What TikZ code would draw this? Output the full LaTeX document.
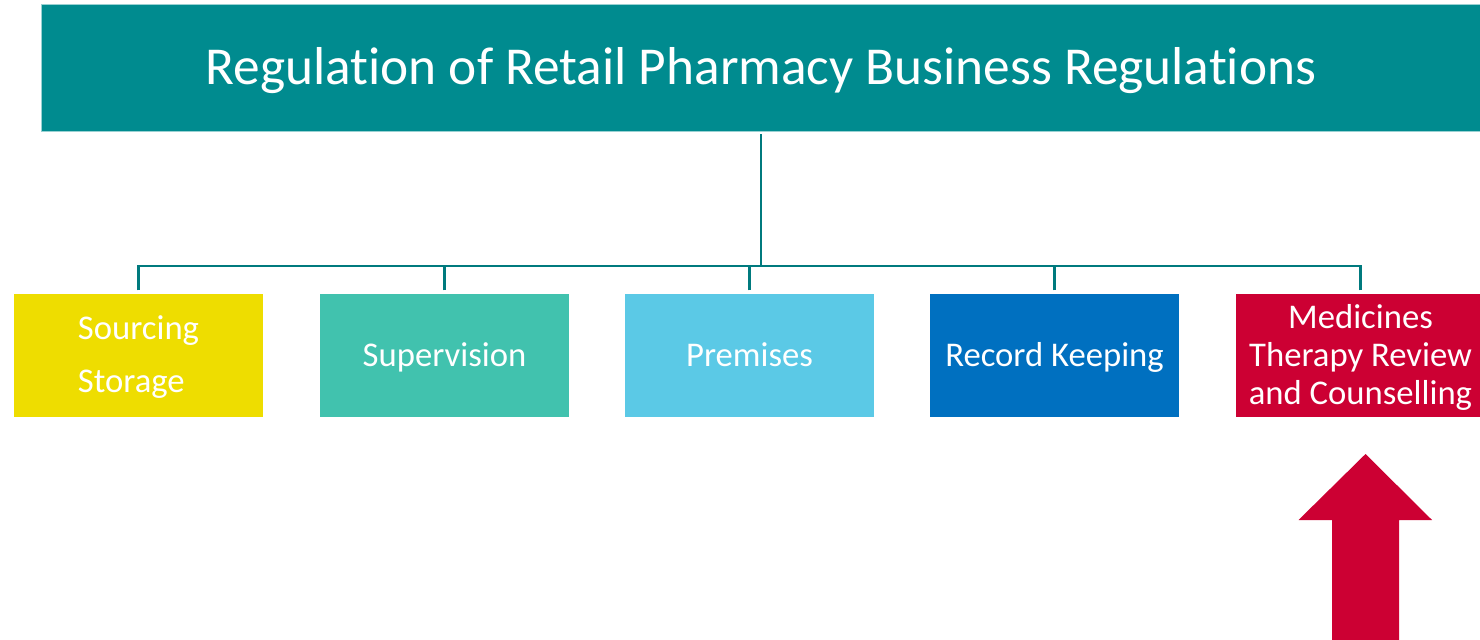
\documentclass[tikz,border=0pt]{standalone}
\usepackage{fontspec}
\setmainfont[Ligatures={NoCommon}]{Carlito}
\definecolor{topteal}{HTML}{008B8F}
\definecolor{lineteal}{HTML}{007A7E}
\definecolor{cyellow}{HTML}{EEDD00}
\definecolor{cgreen}{HTML}{41C2AE}
\definecolor{clblue}{HTML}{5BC9E6}
\definecolor{cblue}{HTML}{0070C0}
\definecolor{cred}{HTML}{CC0033}
\begin{document}
\begin{tikzpicture}[x=0.75pt,y=-0.75pt,
  box/.style={rectangle,minimum width=249*0.75pt,minimum height=123*0.75pt,inner sep=0pt,
    text=white,font=\fontsize{26}{28.5}\selectfont,align=center},
  onebox/.style={box,text height=16.7pt,text depth=0pt},
  label/.style={text=white,inner sep=0pt},
  conn/.style={draw=lineteal,line width=2.2pt}]
\useasboundingbox (0,0) rectangle (1480,639);
\clip (0,0) rectangle (1480,639);
\node[rectangle,fill=topteal,draw=topteal!40!white,line width=0.6pt,minimum width=1440*0.75pt,minimum height=127*0.75pt,inner sep=0pt] (top) at (761,67.5) {};
\node[label,font=\fontsize{40}{46}\selectfont,text height=25.8pt,text depth=0pt] (toptext) at (761,67.5) {Regulation of Retail Pharmacy Business Regulations};
\node[box,fill=cyellow] (b1) at (138.5,355.5) {};
\node[label,align=left,font=\fontsize{26}{39.75}\selectfont] (b1text) at (138.5,357.5) {Sourcing\\Storage};
\node[onebox,fill=cgreen] (b2) at (444.5,355.5) {Supervision};
\node[onebox,fill=clblue] (b3) at (749.5,355.5) {Premises};
\node[onebox,fill=cblue] (b4) at (1054.5,355.5) {Record Keeping};
\node[box,fill=cred] (b5) at (1360.5,355.5) {};
\node[label,align=center,font=\fontsize{26}{28.5}\selectfont] (b5text) at (1360.5,357) {Medicines\\Therapy Review\\and Counselling};
\coordinate (bus) at (761,266);
\draw[conn] ([yshift=-2pt]top.south) -- (bus);
\foreach \b in {b1,b2,b3,b4,b5} \draw[conn] ([yshift=2.5pt]\b.north) -- (\b.north |- bus);
\draw[conn] ([xshift=-1.1pt]b1.north |- bus) -- ([xshift=1.1pt]b5.north |- bus);
\fill[cred] (1365.5,454) -- (1432,520) -- (1399,520) -- (1399,640) -- (1332,640) -- (1332,520) -- (1298.5,520) -- cycle;
\end{tikzpicture}
\end{document}
